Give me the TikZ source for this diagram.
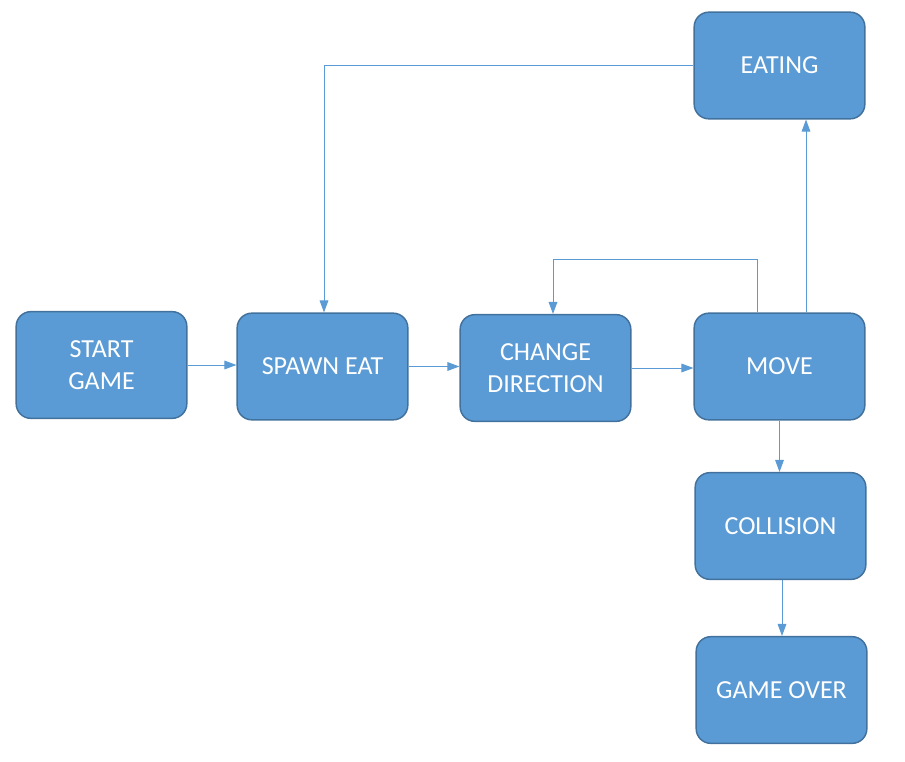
\documentclass[tikz,border=0pt]{standalone}
\usepackage{fontspec}
\setmainfont{Carlito}
\usetikzlibrary{arrows.meta,calc}
\definecolor{boxfill}{HTML}{5B9BD5}
\definecolor{boxline}{HTML}{41719C}
\definecolor{conn}{HTML}{5B9BD5}
\begin{document}
\begin{tikzpicture}[x=0.75pt,y=-0.75pt,
  statebox/.style={draw=boxline,line width=1.1pt,fill=boxfill,rounded corners=11pt,
    minimum width=128pt,minimum height=80pt,inner sep=0pt,align=center,
    text=white,font=\fontsize{19.5}{24.5}\selectfont},
  conn/.style={draw=conn,line width=0.75pt,-{Triangle[length=9pt,width=6.5pt]}}]
\useasboundingbox (0,0) rectangle (905,761);
\node[statebox] (start) at (101.5,365) {START\\GAME};
\node[statebox] (spawn) at (322.5,366.5) {SPAWN EAT};
\node[statebox] (change) at (545.5,368) {CHANGE\\DIRECTION};
\node[statebox] (move) at (779.5,366.5) {MOVE};
\node[statebox] (eating) at (779.5,65.5) {EATING};
\node[statebox] (collision) at (780.5,526) {COLLISION};
\node[statebox] (gameover) at (781.5,690) {GAME OVER};

\draw[conn] (start.east) -- (spawn.west |- start.east);
\draw[conn] (spawn.east) -- (change.west |- spawn.east);
\draw[conn] (change.east) -- (move.west |- change.east);
\draw[conn] (eating.west) -| ($(spawn.north)+(1.5,0)$);
\draw[conn] ($(move.north)+(-22.5,0)$) |- ($(change.north)+(7.5,-54)$) -- ($(change.north)+(7.5,0)$);
\draw[conn] ($(move.north)+(26.5,0)$) -- ($(eating.south)+(26.5,0)$);
\draw[conn] (move.south) -- (move.south |- collision.north);
\draw[conn] ($(collision.south)+(1.5,0)$) -- ($(gameover.north)+(0.5,0)$);
\end{tikzpicture}
\end{document}
